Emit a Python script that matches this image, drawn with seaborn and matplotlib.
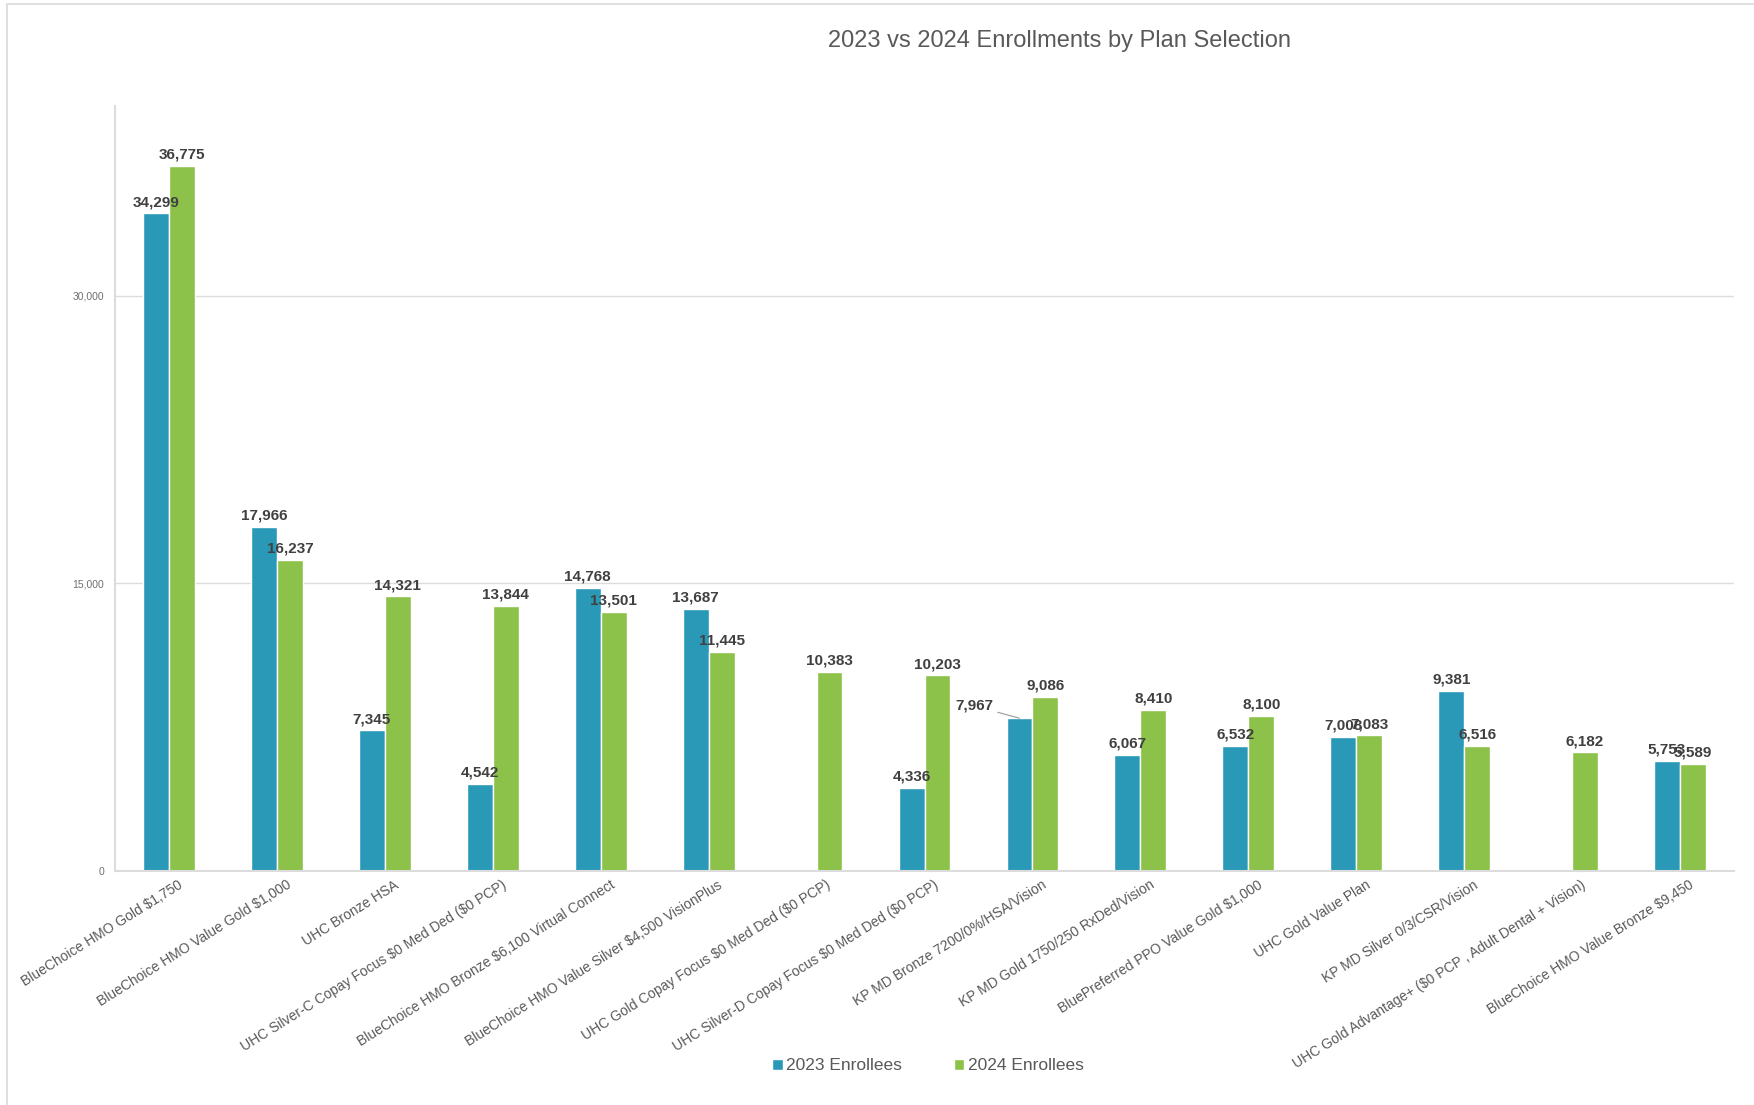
import matplotlib
matplotlib.use("Agg")
import matplotlib.pyplot as plt
import matplotlib.transforms as mtransforms
from matplotlib.patches import Rectangle, Patch
import seaborn as sns
import numpy as np
import pandas as pd

# data
plans = [
    "BlueChoice HMO Gold $1,750",
    "BlueChoice HMO Value Gold $1,000",
    "UHC Bronze HSA",
    "UHC Silver-C Copay Focus $0 Med Ded ($0 PCP)",
    "BlueChoice HMO Bronze $6,100 Virtual Connect",
    "BlueChoice HMO Value Silver $4,500 VisionPlus",
    "UHC Gold Copay Focus $0 Med Ded ($0 PCP)",
    "UHC Silver-D Copay Focus $0 Med Ded ($0 PCP)",
    "KP MD Bronze 7200/0%/HSA/Vision",
    "KP MD Gold 1750/250 RxDed/Vision",
    "BluePreferred PPO Value Gold $1,000",
    "UHC Gold Value Plan",
    "KP MD Silver 0/3/CSR/Vision",
    "UHC Gold Advantage+ ($0 PCP , Adult Dental + Vision)",
    "BlueChoice HMO Value Bronze $9,450",
]
enroll_2023 = [34299, 17966, 7345, 4542, 14768, 13687, np.nan, 4336,
               7967, 6067, 6532, 7008, 9381, np.nan, 5753]
enroll_2024 = [36775, 16237, 14321, 13844, 13501, 11445, 10383, 10203,
               9086, 8410, 8100, 7083, 6516, 6182, 5589]
series = ["2023 Enrollees", "2024 Enrollees"]
y_ticks = [0, 15000, 30000]

colors = {"2023 Enrollees": "#2A99B8", "2024 Enrollees": "#8DC24A"}

df = pd.DataFrame({
    "plan": plans * 2,
    "series": [series[0]] * len(plans) + [series[1]] * len(plans),
    "value": enroll_2023 + enroll_2024,
}).dropna()

sns.set_theme(style="white")
plt.rcParams["font.family"] = ["Liberation Sans", "DejaVu Sans"]
plt.rcParams["text.parse_math"] = False  # labels contain "$"

fig = plt.figure(figsize=(17.54, 11.05), dpi=100)
ax = fig.add_axes([115 / 1754, 1 - 871 / 1105, (1734 - 115) / 1754, (871 - 106) / 1105])

sns.barplot(data=df, x="plan", y="value", hue="series", order=plans,
            hue_order=series, palette=colors, saturation=1, width=0.48,
            dodge=True, legend=False, ax=ax)

ax.set_ylim(0, 39900)
ax.set_xlim(-0.5, len(plans) - 0.5)
ax.set_yticks(y_ticks)
ax.set_yticklabels([f"{t:,}" for t in y_ticks], fontsize=7.5, color="#6f6f6f")
ax.tick_params(axis="y", length=0, pad=8)
ax.tick_params(axis="x", length=0, pad=2)
ax.set_xlabel("")
ax.set_ylabel("")
ax.yaxis.grid(True, color="#dcdcdc", linewidth=1)
ax.set_axisbelow(True)
for s in ["top", "right"]:
    ax.spines[s].set_visible(False)
for s in ["left", "bottom"]:
    ax.spines[s].set_color("#dcdcdc")
    ax.spines[s].set_linewidth(1.5)

# x tick labels, rotated
ax.set_xticks(range(len(plans)))
ax.set_xticklabels(plans, rotation=32, ha="right", va="top",
                   rotation_mode="anchor", fontsize=10, color="#595959")
shift = mtransforms.ScaledTranslation(9 / 100, -4 / 100, fig.dpi_scale_trans)
for lbl in ax.get_xticklabels():
    lbl.set_transform(lbl.get_transform() + shift)

# value labels
for cont in ax.containers:
    for bar in cont:
        h = bar.get_height()
        if np.isnan(h) or h == 0:
            continue
        cx = bar.get_x() + bar.get_width() / 2
        if h == 7967:
            # this one sits to the left with a small leader line
            ax.annotate(f"{h:,.0f}", xy=(cx, h), xytext=(-19, 9),
                        textcoords="offset points", ha="right", va="center",
                        fontsize=11, fontweight="bold", color="#404040",
                        arrowprops=dict(arrowstyle="-", color="#9a9a9a", lw=0.8,
                                        shrinkA=1, shrinkB=0))
        else:
            ax.annotate(f"{h:,.0f}", xy=(cx, h), xytext=(0, 3),
                        textcoords="offset points", ha="center", va="bottom",
                        fontsize=11, fontweight="bold", color="#404040")

fig.text(1059 / 1754, 1 - 41 / 1105, "2023 vs 2024 Enrollments by Plan Selection",
         ha="center", va="center", fontsize=17, color="#595959")

handles = [Patch(facecolor=colors[s], label=s) for s in series]
fig.legend(handles=handles, loc="center", bbox_to_anchor=(928 / 1754, 1 - 1066 / 1105),
           ncol=2, frameon=False, fontsize=12.5, handlelength=0.6, handleheight=0.6,
           handletextpad=0.2, columnspacing=3, labelcolor="#595959")

# light outer frame
fig.patches.append(Rectangle((7 / 1754, -0.01), 1.02, 1.01 - 4 / 1105,
                             transform=fig.transFigure, fill=False,
                             edgecolor="#d9d9d9", linewidth=1.2))

fig.savefig("out.png", dpi=100)
